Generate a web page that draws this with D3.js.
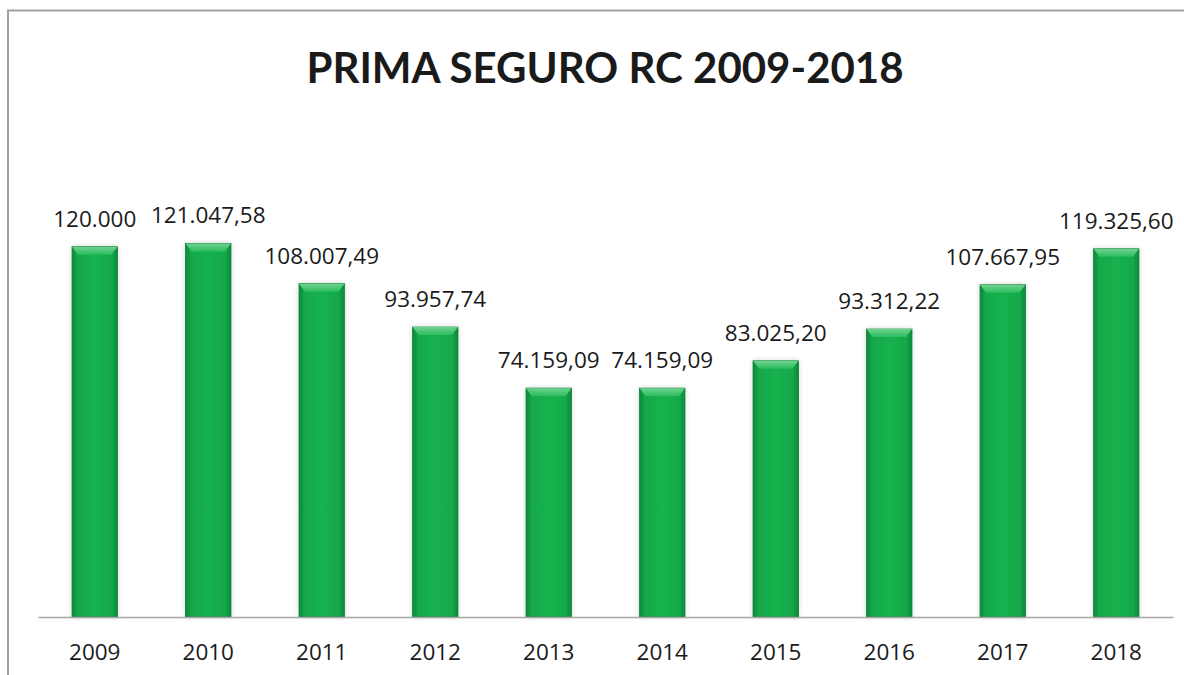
<!DOCTYPE html>
<html>
<head>
<meta charset="utf-8">
<script src="https://cdn.jsdelivr.net/npm/d3@7"></script>
<style>
  body { margin: 0; background: #fff; }
  text { font-family: "Open Sans", Lato, sans-serif; fill: #1a1a1a; }
</style>
</head>
<body>
<script>
// chart data
var years = ["2009", "2010", "2011", "2012", "2013", "2014", "2015", "2016", "2017", "2018"];
var prima = [120000, 121047.58, 108007.49, 93957.74, 74159.09, 74159.09, 83025.20, 93312.22, 107667.95, 119325.60];
var primaLabels = ["120.000", "121.047,58", "108.007,49", "93.957,74", "74.159,09", "74.159,09", "83.025,20", "93.312,22", "107.667,95", "119.325,60"];
var title = "PRIMA SEGURO RC 2009-2018";

var svgWidth = 1184;
var svgHeight = 675;

var svg = d3.select("body")
  .append("svg")
  .attr("width", svgWidth)
  .attr("height", svgHeight);

// gradients for the bars
var defs = svg.append("defs");
var grad = defs.append("linearGradient").attr("id", "barGrad")
  .attr("x1", "0%").attr("x2", "100%").attr("y1", "0%").attr("y2", "0%");
grad.append("stop").attr("offset", "0%").attr("stop-color", "#0c8a3a");
grad.append("stop").attr("offset", "12%").attr("stop-color", "#13a74a");
grad.append("stop").attr("offset", "50%").attr("stop-color", "#16b24e");
grad.append("stop").attr("offset", "88%").attr("stop-color", "#13a74a");
grad.append("stop").attr("offset", "100%").attr("stop-color", "#0c8a3a");

var topGrad = defs.append("linearGradient").attr("id", "topGrad")
  .attr("x1", "0%").attr("x2", "0%").attr("y1", "0%").attr("y2", "100%");
topGrad.append("stop").attr("offset", "0%").attr("stop-color", "#6fd28f");
topGrad.append("stop").attr("offset", "100%").attr("stop-color", "#2cbc5e");

var shadow = defs.append("filter").attr("id", "barShadow")
  .attr("x", "-30%").attr("y", "-10%").attr("width", "160%").attr("height", "120%");
shadow.append("feGaussianBlur").attr("in", "SourceAlpha").attr("stdDeviation", 2.5);
shadow.append("feComponentTransfer").append("feFuncA").attr("type", "linear").attr("slope", 0.18);
var merge = shadow.append("feMerge");
merge.append("feMergeNode");
merge.append("feMergeNode").attr("in", "SourceGraphic");

// outer frame (only top and left visible)
svg.append("path")
  .attr("d", "M8,700 L8,10.5 L1200,10.5")
  .attr("fill", "none")
  .attr("stroke", "#a0a0a0")
  .attr("stroke-width", 2);

// title
svg.append("text")
  .attr("x", 605)
  .attr("y", 83)
  .attr("text-anchor", "middle")
  .style("font-family", "Lato, sans-serif")
  .style("font-size", "42px")
  .style("font-weight", "bold")
  .text(title);

// scales
var plotLeft = 38, plotRight = 1173, baseY = 617;
var x = d3.scaleBand()
  .domain(years)
  .range([plotLeft, plotRight])
  .paddingInner(0.6)
  .paddingOuter(0.3);

var y = d3.scaleLinear()
  .domain([0, 140000])
  .range([baseY, baseY - 432]);

var bars = svg.append("g").selectAll("g.bar")
  .data(years)
  .enter().append("g")
  .attr("class", "bar")
  .attr("filter", "url(#barShadow)");

bars.append("rect")
  .attr("x", d => x(d))
  .attr("y", (d, i) => y(prima[i]))
  .attr("width", x.bandwidth())
  .attr("height", (d, i) => baseY - y(prima[i]))
  .attr("fill", "url(#barGrad)")
  .attr("stroke", "#0b7d35")
  .attr("stroke-width", 0.8);

// bevelled top
bars.append("path")
  .attr("d", function(d, i) {
    var x0 = x(d), w = x.bandwidth(), t = y(prima[i]);
    return "M" + x0 + "," + t + " L" + (x0 + w) + "," + t +
      " L" + (x0 + w - 6) + "," + (t + 8) + " L" + (x0 + 6) + "," + (t + 8) + " Z";
  })
  .attr("fill", "url(#topGrad)");

// value labels
svg.append("g").selectAll("text")
  .data(years)
  .enter().append("text")
  .attr("x", d => x(d) + x.bandwidth() / 2)
  .attr("y", (d, i) => y(prima[i]) - 20)
  .attr("text-anchor", "middle")
  .style("font-size", "22.5px")
  .text((d, i) => primaLabels[i]);

// x axis
var xAxis = svg.append("g")
  .attr("transform", "translate(0," + baseY + ")")
  .call(d3.axisBottom(x).tickSize(0).tickPadding(27));
xAxis.select(".domain")
  .attr("stroke", "#a6a6a6")
  .attr("stroke-width", 1.5);
xAxis.selectAll("text")
  .style("font-size", "22.5px")
  .style("font-family", "'Open Sans', Lato, sans-serif")
  .attr("fill", "#1a1a1a");
</script>
</body>
</html>
